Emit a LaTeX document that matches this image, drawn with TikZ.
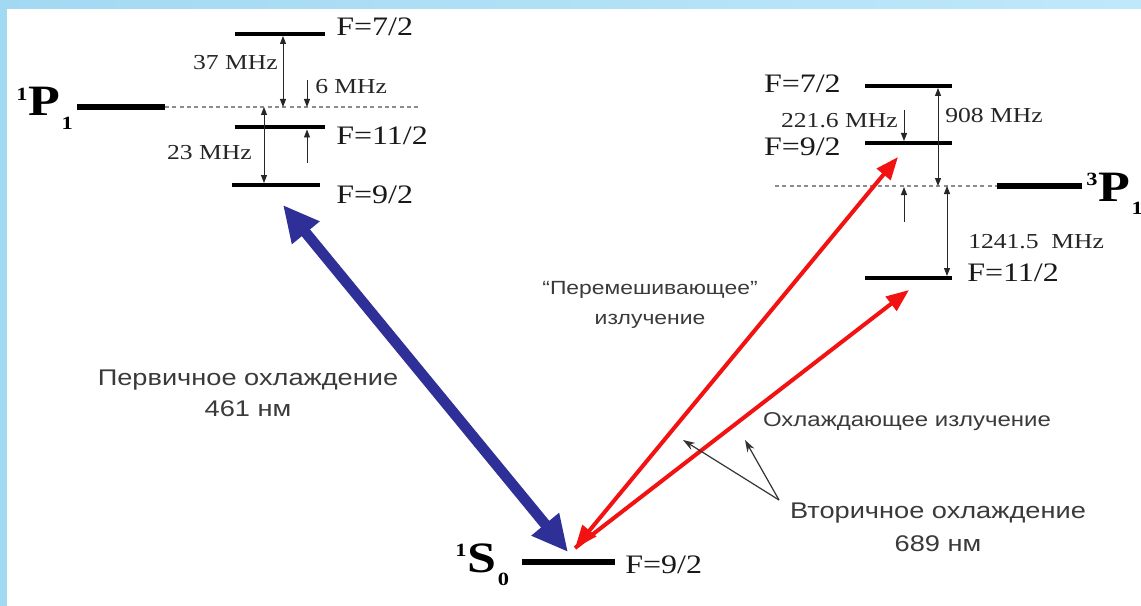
\documentclass[tikz,border=0pt]{standalone}
\usepackage{fontspec}
\setmainfont{Liberation Serif}
\newfontfamily\sansf{Liberation Sans}
\usepackage{graphicx}
\usetikzlibrary{arrows.meta}
\definecolor{frameblue}{HTML}{A2D9F2}
\definecolor{frameblueB}{HTML}{BFE8FB}
\definecolor{navyarrow}{HTML}{2E2F97}
\definecolor{laserred}{HTML}{F21212}
\definecolor{txtgray}{HTML}{3A3A3A}
\newcommand\hx[1]{\scalebox{1.2}[1]{#1}}
\newcommand\termlabel[3]{\hx{\bfseries\raisebox{11.5pt}{\fontsize{14}{14}\selectfont #1}\kern0.5pt #2\kern1pt\raisebox{-10pt}{\fontsize{14}{14}\selectfont #3}}}
\begin{document}
\begin{tikzpicture}[x=0.75pt,y=-0.75pt,
  level/.style={line width=3.6pt},
  mainlevel/.style={line width=5pt},
  dashlvl/.style={draw=black!45, line width=1pt, dash pattern=on 3pt off 2.5pt},
  gap/.style={line width=0.7pt, draw=black!85, {Triangle[length=6pt,width=4.5pt]}-{Triangle[length=6pt,width=4.5pt]}},
  shiftarrow/.style={line width=0.7pt, draw=black!85, -{Triangle[length=6pt,width=4.5pt]}},
  flabel/.style={font=\fontsize{20}{20}\selectfont, text=black!90, inner sep=0pt},
  mlabel/.style={font=\fontsize{16}{16}\selectfont, text=black!85, inner sep=0pt},
  termnode/.style={font=\fontsize{32.5}{32.5}\selectfont, inner sep=0pt},
  stext/.style={font=\sansf\fontsize{17}{23}\selectfont, text=txtgray, align=center, inner sep=0pt},
  bluearrow/.style={draw=navyarrow, line width=8pt, {Triangle[length=27pt,width=25pt]}-{Triangle[length=27pt,width=25pt]}},
  redarrow/.style={draw=laserred, line width=3pt},
  pointer/.style={draw=black!80, line width=0.9pt, -{Stealth[length=9pt,width=6pt]}}]
\useasboundingbox (0,0) rectangle (1141,606);
\clip (0,0) rectangle (1141,606);
\fill[white] (0,0) rectangle (1141,606);
\shade[left color=frameblue, right color=frameblueB] (0,0) rectangle (1141,9);
\fill[frameblue] (0,0) rectangle (7,606);

% ---------- 1P1 ----------
\node[termnode, anchor=base west] (tP1) at (16,116) {\termlabel{1}{P}{1}};
\coordinate (p1L) at (77,107); \coordinate (p1R) at (165,107);
\coordinate (p1D) at (420,107);
\draw[mainlevel] (p1L) -- (p1R);
\draw[dashlvl] (p1R) -- (p1D);

\coordinate (a7L) at (235,34);  \coordinate (a7R) at (325,34);
\coordinate (a11L) at (235,127); \coordinate (a11R) at (325,127);
\coordinate (a9L) at (232,185); \coordinate (a9R) at (320,185);
\draw[level] (a7L) -- (a7R);
\draw[level] (a11L) -- (a11R);
\draw[level] (a9L) -- (a9R);
\node[flabel, anchor=base west] (la7) at (336,36) {\hx{F=7/2}};
\node[flabel, anchor=base west] (la11) at (336,145) {\hx{F=11/2}};
\node[flabel, anchor=base west] (la9) at (336,203) {\hx{F=9/2}};

\coordinate (g37t) at (283,36); \coordinate (g37b) at (283,107);
\draw[gap] (g37t) -- (g37b);
\node[mlabel, anchor=base east] (l37) at (278,70) {\hx{37 MHz}};
\coordinate (s6t) at (307,80); \coordinate (s6b) at (307,107);
\draw[shiftarrow] (s6t) -- (s6b);
\node[mlabel, anchor=base west] (l6) at (315,94) {\hx{6 MHz}};
\coordinate (s6u) at (307,163); \coordinate (s6v) at (307,129.5);
\draw[shiftarrow] (s6u) -- (s6v);
\coordinate (g23t) at (264,107); \coordinate (g23b) at (264,183);
\draw[gap] (g23t) -- (g23b);
\node[mlabel, anchor=base east] (l23) at (252,160) {\hx{23 MHz}};

% ---------- 3P1 ----------
\coordinate (b7L) at (865,86);  \coordinate (b7R) at (952,86);
\coordinate (b9L) at (865,143); \coordinate (b9R) at (952,143);
\coordinate (b11L) at (865,278); \coordinate (b11R) at (952,278);
\draw[level] (b7L) -- (b7R);
\draw[level] (b9L) -- (b9R);
\draw[level] (b11L) -- (b11R);
\coordinate (p3D) at (775,186); \coordinate (p3L) at (997,186); \coordinate (p3R) at (1082,186);
\draw[dashlvl] (p3D) -- (p3L);
\draw[mainlevel] (p3L) -- (p3R);
\node[termnode, anchor=base west] (tP3) at (1086,201) {\termlabel{3}{P}{1}};
\node[flabel, anchor=base east] (lb7) at (841,93) {\hx{F=7/2}};
\node[flabel, anchor=base east] (lb9) at (841,156) {\hx{F=9/2}};
\node[flabel, anchor=base west] (lb11) at (967,281) {\hx{F=11/2}};

\coordinate (g908t) at (938,88); \coordinate (g908b) at (938,186);
\draw[gap] (g908t) -- (g908b);
\node[mlabel, anchor=base west] (l908) at (945,123) {\hx{908 MHz}};
\coordinate (s221t) at (904,110); \coordinate (s221b) at (904,141);
\draw[shiftarrow] (s221t) -- (s221b);
\node[mlabel, anchor=base east] (l221) at (898,128) {\hx{221.6 MHz}};
\coordinate (s3u) at (904,222); \coordinate (s3v) at (904,187);
\draw[shiftarrow] (s3u) -- (s3v);
\coordinate (g1241t) at (947,186); \coordinate (g1241b) at (947,276);
\draw[gap] (g1241t) -- (g1241b);
\node[mlabel, anchor=base west] (l1241) at (968,248) {\hx{1241.5\ \ MHz}};

% ---------- 1S0 ----------
\coordinate (s0L) at (522,562); \coordinate (s0R) at (615,562);
\draw[mainlevel] (s0L) -- (s0R);
\node[termnode, anchor=base west] (tS0) at (455,572) {\termlabel{1}{S}{0}};
\node[flabel, anchor=base west] (ls0) at (625,573) {\hx{F=9/2}};

% ---------- transitions ----------
\coordinate (blueTop) at (283,205); \coordinate (blueBot) at (568,552);
\draw[bluearrow] (blueTop) -- (blueBot);
\coordinate (redBot) at (575,548);
\coordinate (redTopA) at (898,157); \coordinate (redTopB) at (909,290);
\draw[redarrow, -{Triangle[length=17pt,width=13pt]}] (redBot) -- (redTopB);
\draw[redarrow, {Triangle[length=17pt,width=13pt]}-{Triangle[length=17pt,width=13pt]}] (redBot) -- (redTopA);

% ---------- texts ----------
\node[stext] (prim) at (248,393) {\hx{Первичное охлаждение}\\\hx{461 нм}};
\node[stext, font=\sansf\fontsize{14.3}{23}\selectfont] (mix) at (650,305) {\hx{“Перемешивающее”}\\\hx{излучение}};
\node[stext, font=\sansf\fontsize{15}{20}\selectfont] (cool) at (907,422) {\hx{Охлаждающее излучение}};
\node[stext, font=\sansf\fontsize{17}{25}\selectfont] (sec) at (938,527) {\hx{Вторичное охлаждение}\\\hx{689 нм}};

\coordinate (apex) at (779,500);
\coordinate (tipA) at (683,440); \coordinate (tipB) at (745,440);
\draw[pointer] (apex) -- (tipA);
\draw[pointer] (apex) -- (tipB);
\end{tikzpicture}
\end{document}
